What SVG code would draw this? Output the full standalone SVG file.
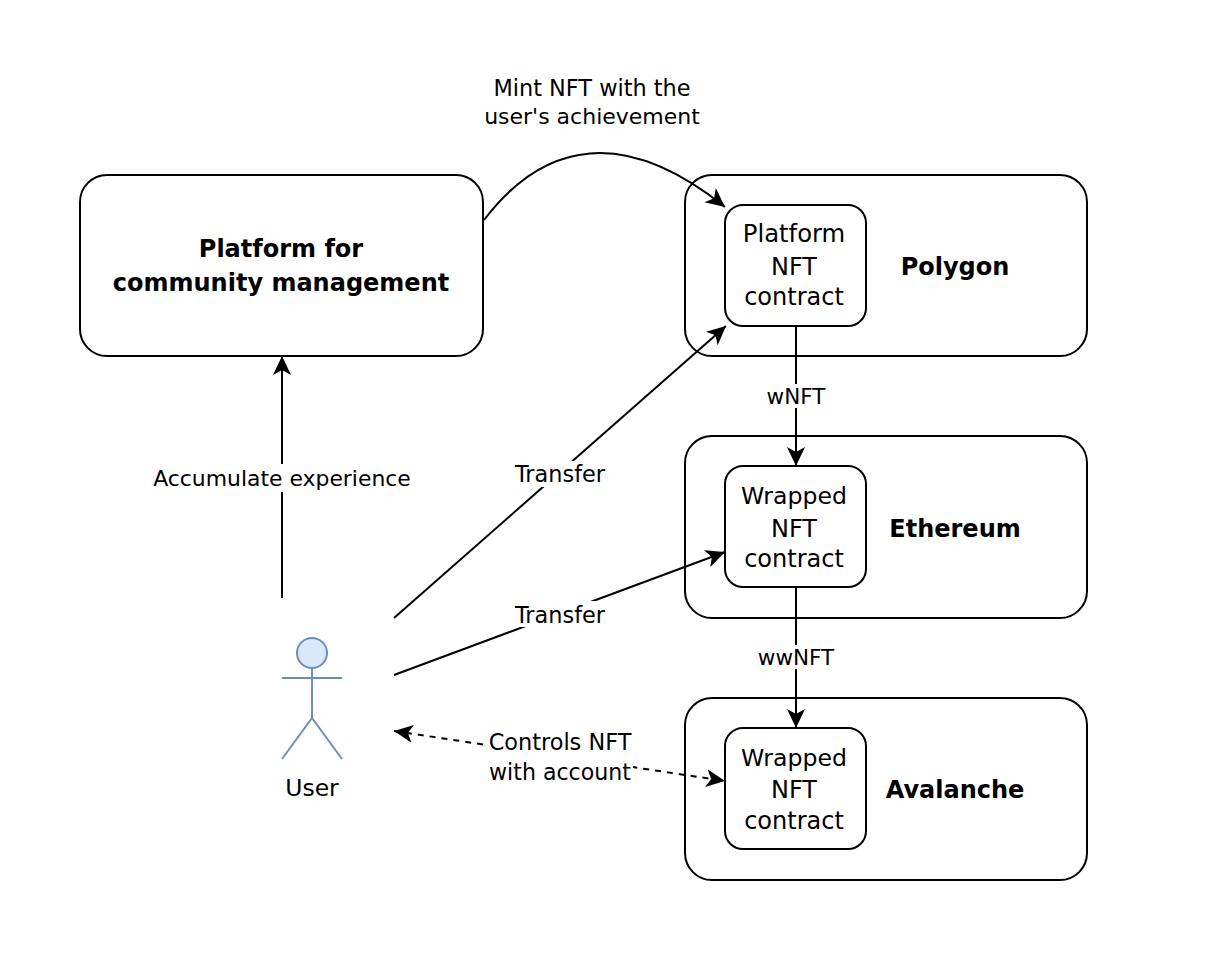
<svg xmlns="http://www.w3.org/2000/svg" width="1222" height="970" viewBox="0 0 1222 970">
<style>
text{font-family:"DejaVu Sans","Liberation Sans",sans-serif;fill:#000;text-anchor:middle}
.n{font-size:24px}
.u{font-size:23.5px}
.b{font-size:24px;font-weight:bold}
.s{font-size:21.5px}
.m{font-size:22.4px}
.box{fill:#fff;stroke:#000;stroke-width:2}
.c{fill:none;stroke:#000;stroke-width:2;marker-end:url(#a)}
.lb{fill:#fff;stroke:none}
</style>
<defs><marker id="a" markerUnits="userSpaceOnUse" markerWidth="22" markerHeight="20" refX="19" refY="9" orient="auto-start-reverse"><path d="M0 0L19 9L0 18L5 9Z" fill="#000"/></marker></defs>
<rect width="1222" height="970" fill="#fff"/>
<g id="platform"><rect class="box" x="80" y="175" width="403" height="181" rx="27"/><text class="b" x="281" y="257">Platform for</text><text class="b" x="281" y="291">community management</text></g>
<g id="polygon"><rect class="box" x="685" y="175" width="402" height="181" rx="27"/><text class="b" x="955" y="275">Polygon</text></g>
<g id="ethereum"><rect class="box" x="685" y="436" width="402" height="182" rx="27"/><text class="b" x="955" y="537">Ethereum</text></g>
<g id="avalanche"><rect class="box" x="685" y="698" width="402" height="182" rx="27"/><text class="b" x="955" y="798">Avalanche</text></g>
<g id="connectors">
<path class="c" d="M484 220C545 140 625 127 725 207"/>
<path class="c" d="M282 598V356"/>
<path class="c" d="M394 618L726 326"/>
<path class="c" d="M394 675L725 552"/>
<path class="c" d="M796 326V466"/>
<path class="c" d="M796 588V728"/>
<path class="c" stroke-dasharray="6 6" d="M394 731L725 781" style="marker-start:url(#a)"/>
</g>
<g id="pnft"><rect class="box" x="725" y="205" width="141" height="121" rx="18"/><text class="n" x="794" y="242" style="font-size:24.3px">Platform</text><text class="n" x="794" y="275">NFT</text><text class="n" x="794" y="305">contract</text></g>
<g id="wnft1"><rect class="box" x="725" y="466" width="141" height="121" rx="18"/><text class="n" x="794" y="504" style="font-size:23.6px">Wrapped</text><text class="n" x="794" y="537">NFT</text><text class="n" x="794" y="567">contract</text></g>
<g id="wnft2"><rect class="box" x="725" y="728" width="141" height="121" rx="18"/><text class="n" x="794" y="766" style="font-size:23.6px">Wrapped</text><text class="n" x="794" y="798">NFT</text><text class="n" x="794" y="829">contract</text></g>
<g id="user"><circle cx="312" cy="653" r="15" fill="#dae8fc" stroke="#6c8ebf" stroke-width="2"/><path d="M312 668V718M282 678H342M312 718L282 759M312 718L342 759" fill="none" stroke="#6c8ebf" stroke-width="2"/><text class="u" x="312" y="796">User</text></g>
<g id="labels">
<text class="m" x="592" y="96">Mint NFT with the</text><text class="m" x="592" y="124" style="font-size:22px">user's achievement</text>
<rect class="lb" x="152" y="464" width="260" height="28"/><text class="m" x="282" y="486" style="font-size:21.9px">Accumulate experience</text>
<rect class="lb" x="514" y="461" width="92" height="26"/><text class="m" x="560" y="482">Transfer</text>
<rect class="lb" x="514" y="601" width="92" height="26"/><text class="m" x="560" y="623">Transfer</text>
<rect class="lb" x="765" y="384" width="61" height="24"/><text class="s" x="796" y="404">wNFT</text>
<rect class="lb" x="757" y="645" width="77" height="24"/><text class="s" x="796" y="665">wwNFT</text>
<rect class="lb" x="487" y="730" width="146" height="55"/><text class="m" x="560" y="750">Controls NFT</text><text class="m" x="560" y="780" style="font-size:22.1px">with account</text>
</g>
</svg>
